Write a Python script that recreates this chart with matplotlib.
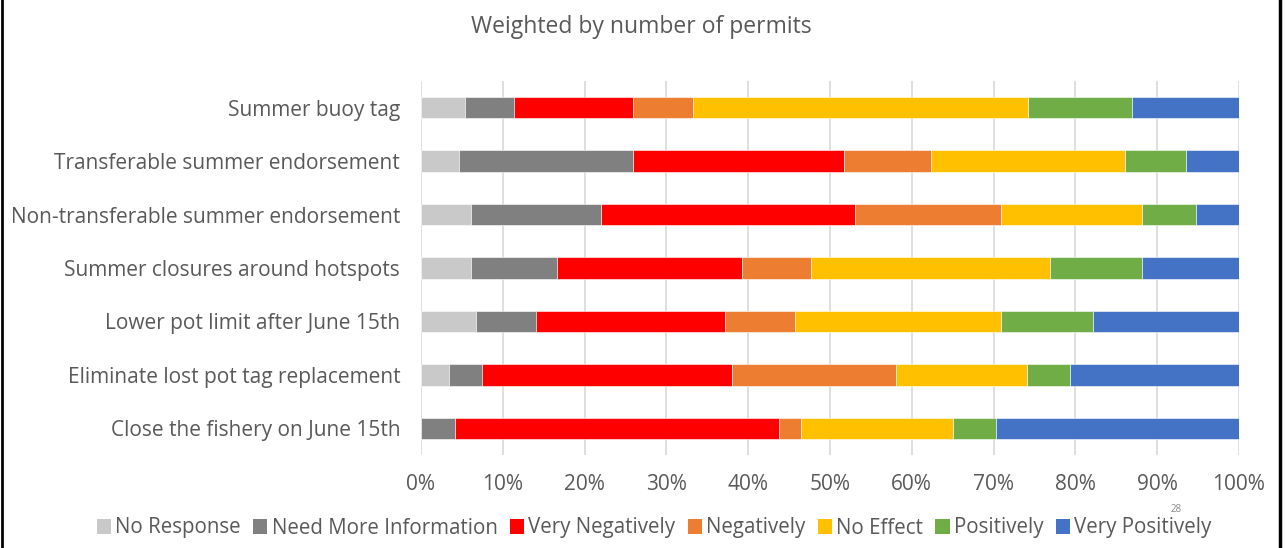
import matplotlib.pyplot as plt
from matplotlib.lines import Line2D
from matplotlib.patches import Patch

plt.rcParams['font.family'] = ['Open Sans', 'DejaVu Sans']

measures = [
    "Summer buoy tag",
    "Transferable summer endorsement",
    "Non-transferable summer endorsement",
    "Summer closures around hotspots",
    "Lower pot limit after June 15th",
    "Eliminate lost pot tag replacement",
    "Close the fishery on June 15th",
]

responses = ["No Response", "Need More Information", "Very Negatively",
             "Negatively", "No Effect", "Positively", "Very Positively"]
colors = ["#c9c9c9", "#808080", "#ff0000", "#ed7d31", "#ffc000", "#70ad47", "#4472c4"]

# percent of permits per response, same order as measures
no_response = [5.4, 4.7, 6.1, 6.1, 6.7, 3.4, 0.0]
need_more_info = [6.0, 21.2, 15.9, 10.5, 7.3, 4.0, 4.1]
very_negatively = [14.5, 25.8, 31.1, 22.6, 23.2, 30.6, 39.7]
negatively = [7.3, 10.6, 17.8, 8.5, 8.5, 20.1, 2.6]
no_effect = [41.0, 23.8, 17.2, 29.2, 25.2, 16.0, 18.6]
positively = [12.7, 7.4, 6.7, 11.2, 11.3, 5.3, 5.3]
very_positively = [13.1, 6.5, 5.2, 11.9, 17.8, 20.6, 29.7]

series = [no_response, need_more_info, very_negatively, negatively,
          no_effect, positively, very_positively]

fig = plt.figure(figsize=(12.86, 5.48), dpi=100)
ax = fig.add_axes([421 / 1286, 93 / 548, 818 / 1286, 374 / 548])

text_col = "#595959"
ypos = list(range(len(measures)))
left = [0.0] * len(measures)
for name, vals, c in zip(responses, series, colors):
    tot = [sum(s[i] for s in series) for i in range(len(measures))]
    frac = [v / t * 100 for v, t in zip(vals, tot)]
    ax.barh(ypos, frac, left=left, height=0.4, color=c, label=name,
            edgecolor="white", linewidth=0.4, zorder=3)
    left = [l + f for l, f in zip(left, frac)]

ax.set_xlim(0, 100)
ax.set_ylim(len(measures) - 0.5, -0.5)
ax.set_xticks(range(0, 101, 10))
ax.set_xticklabels([f"{t}%" for t in range(0, 101, 10)])
ax.set_yticks(ypos)
ax.set_yticklabels(measures)
ax.tick_params(axis="both", length=0, labelsize=15, colors=text_col)
ax.tick_params(axis="x", pad=14)
ax.tick_params(axis="y", pad=15)
ax.grid(axis="x", color="#d9d9d9", linewidth=1.2, zorder=0)
for s in ax.spines.values():
    s.set_visible(False)

fig.text(641 / 1286, 1 - 27 / 548, "Weighted by number of permits",
         ha="center", va="center", fontsize=16.5, color=text_col)

handles = [Patch(facecolor=c, edgecolor="none") for c in colors]
fig.legend(handles, responses, loc="center", bbox_to_anchor=(654 / 1286, 1 - 528 / 548),
           ncol=7, frameon=False, fontsize=14.8, handlelength=0.7, handleheight=0.7,
           handletextpad=0.2, columnspacing=0.6, labelcolor=text_col)

# slide number, sits just above the legend row
fig.text(1176 / 1286, 1 - 510 / 548, "28", ha="center", va="center",
         fontsize=7, color="#888888")

# slide frame edges
fig.add_artist(Line2D([1.5 / 1286, 1.5 / 1286], [0, 1], color="black", linewidth=2))
fig.add_artist(Line2D([1279.5 / 1286, 1279.5 / 1286], [0, 1], color="black", linewidth=2.5))

fig.savefig("out.png", dpi=100)
